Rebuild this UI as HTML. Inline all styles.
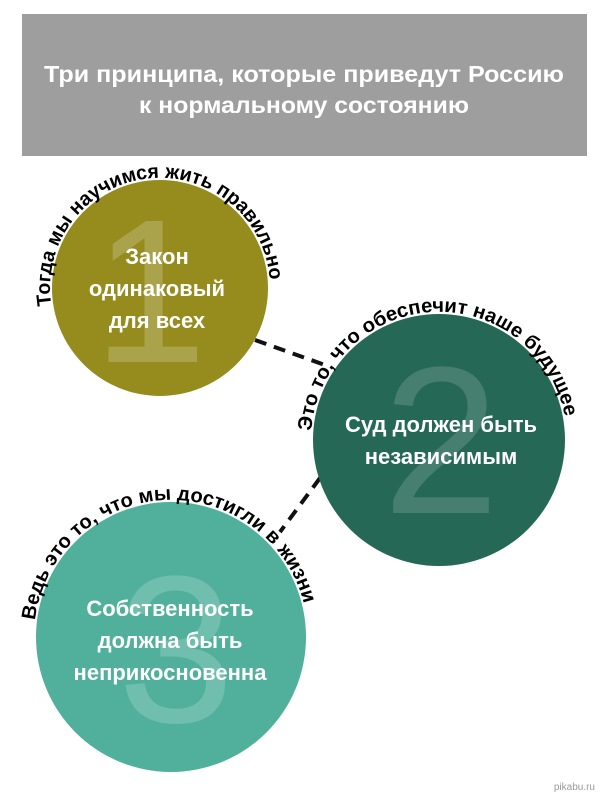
<!DOCTYPE html>
<html><head><meta charset="utf-8"><style>
html,body{margin:0;padding:0;background:#fff;}
svg{display:block;}
text{font-family:"Liberation Sans","DejaVu Sans",sans-serif;}
</style></head><body>
<svg width="600" height="798" viewBox="0 0 600 798" xmlns="http://www.w3.org/2000/svg">
<defs>
<path id="p1" d="M 51.4 305.2 A 110 110 0 1 1 270 289.9"/>
<path id="p2" d="M 311.3 431.1 A 128 128 0 0 1 566.2 425.5"/>
<path id="p3" d="M 35 620.3 A 137 137 0 0 1 305.5 610.9"/>
</defs>
<rect x="22" y="14" width="565" height="142" fill="#9e9e9e"/>
<text x="304" y="82" fill="#fff" font-size="23" font-weight="bold" text-anchor="middle" textLength="520" lengthAdjust="spacingAndGlyphs">Три принципа, которые приведут Россию</text>
<text x="304" y="113" fill="#fff" font-size="23" font-weight="bold" text-anchor="middle" textLength="330" lengthAdjust="spacingAndGlyphs">к нормальному состоянию</text>

<path d="M255 340 L325 365" stroke="#111" stroke-width="4" stroke-dasharray="12,8" fill="none"/>
<path d="M320 478 L280 532" stroke="#111" stroke-width="4" stroke-dasharray="12,8" fill="none"/>

<circle cx="160" cy="288" r="108" fill="#968c1e"/>
<text x="150" y="362" fill="#fff" fill-opacity="0.2" font-size="205" text-anchor="middle">1</text>
<g fill="#fff" font-size="22" font-weight="bold" text-anchor="middle">
<text x="157" y="264">Закон</text>
<text x="157" y="296">одинаковый</text>
<text x="157" y="328">для всех</text>
</g>

<circle cx="439" cy="440" r="126" fill="#266856"/>
<text x="441" y="513" fill="#fff" fill-opacity="0.15" font-size="210" text-anchor="middle">2</text>
<g fill="#fff" font-size="22" font-weight="bold" text-anchor="middle">
<text x="441" y="432">Суд должен быть</text>
<text x="441" y="464">независимым</text>
</g>

<circle cx="171" cy="637" r="135" fill="#51b09b"/>
<text x="176" y="722" fill="#fff" fill-opacity="0.18" font-size="210" text-anchor="middle">3</text>
<g fill="#fff" font-size="22" font-weight="bold" text-anchor="middle">
<text x="170" y="616">Собственность</text>
<text x="170" y="648">должна быть</text>
<text x="170" y="680">неприкосновенна</text>
</g>

<g fill="#000" font-size="20" font-weight="bold">
<text><textPath href="#p1" textLength="355" lengthAdjust="spacingAndGlyphs">Тогда мы научимся жить правильно</textPath></text>
<text><textPath href="#p2" textLength="370" lengthAdjust="spacingAndGlyphs">Это то, что обеспечит наше будущее</textPath></text>
<text><textPath href="#p3" textLength="380" lengthAdjust="spacingAndGlyphs">Ведь это то, что мы достигли в жизни</textPath></text>
</g>
<text x="595" y="790" fill="#999" font-size="10" text-anchor="end">pikabu.ru</text>
</svg>
</body></html>
